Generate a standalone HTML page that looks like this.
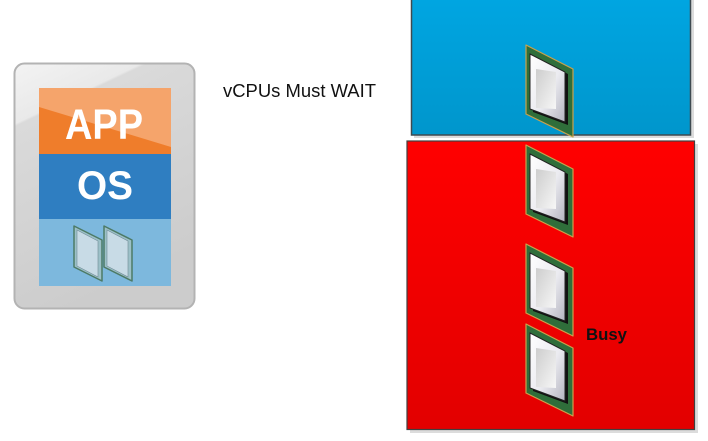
<!DOCTYPE html>
<html><head><meta charset="utf-8"><style>
html,body{margin:0;padding:0;background:#fff;}
svg{display:block;}
</style></head><body>
<svg width="708" height="441" viewBox="0 0 708 441" xmlns="http://www.w3.org/2000/svg">
<defs>
  <linearGradient id="blueG" x1="0" y1="0" x2="0" y2="1">
    <stop offset="0" stop-color="#00a6e2"/><stop offset="1" stop-color="#0096cc"/>
  </linearGradient>
  <linearGradient id="redG" x1="0" y1="0" x2="0" y2="1">
    <stop offset="0" stop-color="#ff0000"/><stop offset="1" stop-color="#e20000"/>
  </linearGradient>
  <linearGradient id="frameG" x1="0" y1="0" x2="0.35" y2="1">
    <stop offset="0" stop-color="#f3f3f3"/><stop offset="0.22" stop-color="#e9e9e9"/>
    <stop offset="0.23" stop-color="#dadada"/><stop offset="1" stop-color="#cccccc"/>
  </linearGradient>
  <linearGradient id="sp" x1="0" y1="0" x2="1" y2="1">
    <stop offset="0" stop-color="#ffffff"/><stop offset="0.55" stop-color="#ebebf0"/><stop offset="1" stop-color="#b4b4c0"/>
  </linearGradient>
  <linearGradient id="inn" x1="0" y1="0" x2="1" y2="1">
    <stop offset="0" stop-color="#cdcdcd"/><stop offset="1" stop-color="#f7f7f7"/>
  </linearGradient>
  <symbol id="chip" viewBox="0 0 52 98">
    <polygon points="1,3 48,27 48,95 1,72" fill="#2f6e3a" stroke="#c9a24c" stroke-width="1.2" stroke-linejoin="round"/>
    <polygon points="8,14 43,32 43,83 8,70" fill="#111"/>
    <polygon points="5,12 40,30 40,80 5,67" fill="url(#sp)" stroke="#222" stroke-width="1"/>
    <polygon points="11,27 31,30 31,67 11,66" fill="url(#inn)"/>
  </symbol>
  <symbol id="mini" viewBox="0 0 30 57">
    <polygon points="1,1 29,15 29,56 1,42" fill="#9cc0c8" stroke="#4d7a66" stroke-width="1.5" stroke-linejoin="round"/>
    <polygon points="4,5 25,16 25,52 4,41" fill="#c8dbe6" stroke="#6f8a94" stroke-width="0.6"/>
  </symbol>
</defs>

<!-- VM icon -->
<rect x="14.5" y="63.5" width="180" height="245" rx="10" ry="10" fill="url(#frameG)" stroke="#b3b3b3" stroke-width="2"/>
<rect x="39" y="88" width="132" height="66" fill="#f5a46b"/>
<polygon points="39,107 171,147 171,154 39,154" fill="#ef7d2b"/>
<rect x="39" y="154" width="132" height="65" fill="#2f7ec1"/>
<rect x="39" y="219" width="132" height="67" fill="#7db8dd"/>
<text x="65" y="139" font-family="Liberation Sans, sans-serif" font-weight="bold" font-size="43" fill="#fff" textLength="78" lengthAdjust="spacingAndGlyphs">APP</text>
<text x="77" y="199" font-family="Liberation Sans, sans-serif" font-weight="bold" font-size="40" fill="#fff" textLength="56" lengthAdjust="spacingAndGlyphs">OS</text>
<use href="#mini" x="73" y="225" width="30" height="57"/>
<use href="#mini" x="103" y="225" width="30" height="57"/>

<!-- label -->
<text x="223" y="97" font-family="Liberation Sans, sans-serif" font-size="18" fill="#111" textLength="153" lengthAdjust="spacingAndGlyphs">vCPUs Must WAIT</text>

<!-- blue box -->
<rect x="414" y="-5" width="280" height="143" fill="#dcdcdc"/>
<rect x="411.5" y="-5" width="279" height="140" fill="url(#blueG)" stroke="#3e4a50" stroke-width="1.5"/>
<use href="#chip" x="525" y="42" width="52" height="98"/>

<!-- red box -->
<rect x="410" y="144" width="288" height="289" fill="#dcdcdc"/>
<rect x="407" y="141" width="287.5" height="288.5" fill="url(#redG)" stroke="#404040" stroke-width="1.2"/>
<use href="#chip" x="525" y="142" width="52" height="98"/>
<use href="#chip" x="525" y="241" width="52" height="98"/>
<use href="#chip" x="525" y="321" width="52" height="98"/>
<text x="586" y="340" font-family="Liberation Sans, sans-serif" font-weight="bold" font-size="17" fill="#111" textLength="41" lengthAdjust="spacingAndGlyphs">Busy</text>
</svg>
</body></html>
